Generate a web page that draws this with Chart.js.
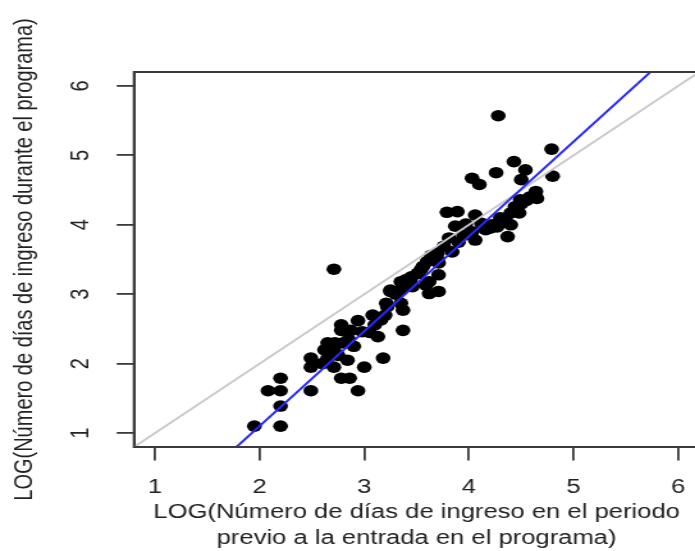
<!DOCTYPE html>
<html><head><meta charset="utf-8">
<script src="https://cdn.jsdelivr.net/npm/chart.js@4"></script>
<style>
html,body{margin:0;padding:0;background:#fff;overflow:hidden;width:695px;height:551px;}
#wrap{position:absolute;left:0;top:0;width:552px;height:551px;transform:scaleX(1.28);transform-origin:0 0;}
canvas{display:block;}
</style></head><body>
<div id="wrap"><canvas id="c" width="552" height="551"></canvas></div>
<script>
// LOG(días de ingreso previos) -> x ; LOG(días de ingreso durante) -> y
const xPrevio = [1.95,2.20,2.20,2.08,2.20,2.20,2.49,2.94,2.49,2.49,3.18,3.37,2.65,2.65,2.71,2.78,2.86,2.84,3.00,2.71,
  2.78,2.78,2.94,2.87,2.98,3.08,3.10,3.16,3.13,3.22,3.35,3.37,3.25,3.35,3.44,3.51,3.54,3.60,3.64,3.59,
  2.71,2.72,2.80,2.62,2.90,2.75,2.60,2.85,3.05,3.20,
  4.28,4.79,4.80,4.43,4.54,4.50,4.26,4.03,4.10,4.64,4.65,4.49,4.44,4.40,4.48,4.35,4.37,4.27,4.22,3.79,
  3.89,4.06,3.87,3.97,4.03,4.16,4.06,3.81,3.76,3.84,3.70,3.65,3.71,3.56,3.52,3.71,3.62,3.40,3.25,3.35,
  3.46,3.62,3.71,3.21,4.30,4.45,4.50,4.20,4.12,4.55,3.95,3.90,3.70,3.45,3.30,4.40,4.58];
const yDurante = [1.10,1.10,1.39,1.61,1.61,1.79,1.61,1.61,2.08,1.95,2.08,2.48,2.30,2.08,1.95,1.79,1.79,2.05,1.95,2.20,
  2.48,2.56,2.62,2.48,2.46,2.70,2.56,2.63,2.39,2.82,2.87,2.77,3.04,3.18,3.20,3.30,3.35,3.47,3.56,3.13,
  3.36,2.30,2.30,2.20,2.25,2.12,2.00,2.35,2.45,2.70,
  5.57,5.09,4.70,4.91,4.79,4.65,4.75,4.67,4.58,4.48,4.38,4.36,4.26,4.17,4.17,4.07,3.83,3.97,4.00,4.18,
  4.19,4.14,3.98,4.01,3.90,3.93,3.78,3.81,3.69,3.61,3.59,3.52,3.45,3.40,3.30,3.28,3.18,3.21,3.06,3.06,
  3.11,3.01,3.04,2.87,4.10,4.25,4.30,3.95,4.02,4.35,3.85,3.75,3.50,3.25,3.00,4.00,4.40];
const xTickLabels = [1,2,3,4,5,6];
const yTickLabels = [1,2,3,4,5,6];
const axisLimits = [0.8, 6.2];
const fitLine = {intercept: -1.628, slope: 1.365};      // recta de regresión (azul)
const identityLine = {intercept: 0, slope: 1};         // diagonal y = x (gris)

const pts = xPrevio.map((x,i)=>({x:x, y:yDurante[i]}));
const lineData = l => axisLimits.map(x=>({x:x, y:l.intercept + l.slope*x}));

const FONT = {family:"'Liberation Sans', Arial, Helvetica, sans-serif", size:20};
const INK = '#222';
const AXIS = '#3a3a3a';

const boxPlugin = {
  id:'box',
  afterDraw(chart){
    const {ctx, chartArea:a} = chart;
    ctx.save();
    ctx.strokeStyle = AXIS; ctx.lineWidth = 2;
    ctx.strokeRect(a.left, a.top, a.right-a.left, a.bottom-a.top);
    ctx.restore();
  }
};

new Chart(document.getElementById('c'), {
  type:'scatter',
  data:{datasets:[
    {type:'scatter', data:pts, backgroundColor:'#000', borderColor:'#000', borderWidth:0, pointRadius:5.8, order:3},
    {type:'line', data:lineData(identityLine), borderColor:'#c8c8c8', borderWidth:1.8, pointRadius:0, fill:false, order:2},
    {type:'line', data:lineData(fitLine), borderColor:'#2828ff', borderWidth:2, pointRadius:0, fill:false, order:1}
  ]},
  options:{
    responsive:false, animation:false, devicePixelRatio:1,
    layout:{padding:{left:0, top:72, right:4.3, bottom:0}},
    plugins:{legend:{display:false}, tooltip:{enabled:false}},
    scales:{
      x:{type:'linear', position:'bottom', min:axisLimits[0], max:axisLimits[1],
        afterBuildTicks: s => { s.ticks = xTickLabels.map(v=>({value:v})); },
        afterFit: s => { s.height = 104; },
        grid:{drawOnChartArea:false, drawTicks:true, tickLength:13.5, color:AXIS, lineWidth:1.8},
        border:{display:true, color:AXIS, width:2},
        ticks:{font:FONT, color:INK, padding:14.5, autoSkip:false, maxRotation:0, minRotation:0},
        title:{display:true, text:['LOG(Número de días de ingreso en el periodo','previo a la entrada en el programa)'],
          font:{family:FONT.family, size:20, lineHeight:1.3}, color:INK, padding:{top:0,bottom:0}}
      },
      y:{type:'linear', position:'left', min:axisLimits[0], max:axisLimits[1],
        afterBuildTicks: s => { s.ticks = yTickLabels.map(v=>({value:v})); },
        afterFit: s => { s.width = 104.7; },
        grid:{drawOnChartArea:false, drawTicks:true, tickLength:13.5, color:AXIS, lineWidth:1.8},
        border:{display:true, color:AXIS, width:2},
        ticks:{font:FONT, color:INK, padding:21.8, autoSkip:false, minRotation:90, maxRotation:90, crossAlign:'center'},
        title:{display:true, text:'LOG(Número de días de ingreso durante el programa)', font:FONT, color:INK, padding:{top:7.5,bottom:0}}
      }
    }
  },
  plugins:[boxPlugin]
});
</script>
</body></html>
